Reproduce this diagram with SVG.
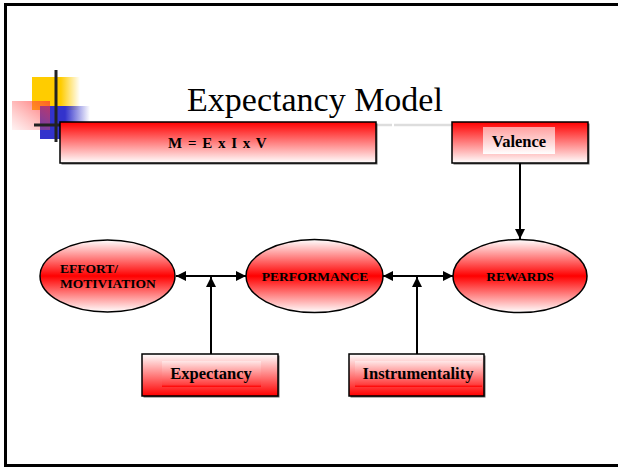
<svg xmlns="http://www.w3.org/2000/svg" width="618" height="467" viewBox="0 0 618 467">
  <defs>
    <linearGradient id="redDown" x1="0" y1="0" x2="0" y2="1">
      <stop offset="0" stop-color="#ff0000"/>
      <stop offset="1" stop-color="#ffffff"/>
    </linearGradient>
    <linearGradient id="redUp" x1="0" y1="0" x2="0" y2="1">
      <stop offset="0" stop-color="#ffffff"/>
      <stop offset="1" stop-color="#ff0000"/>
    </linearGradient>
    <linearGradient id="innerDown" x1="0" y1="0" x2="0" y2="1">
      <stop offset="0" stop-color="#ffa0a0"/>
      <stop offset="1" stop-color="#ffffff"/>
    </linearGradient>
    <linearGradient id="innerUp" x1="0" y1="0" x2="0" y2="1">
      <stop offset="0" stop-color="#ffe8e8"/>
      <stop offset="0.9" stop-color="#ff4040"/>
      <stop offset="1" stop-color="#ff0000"/>
    </linearGradient>
    <linearGradient id="band" x1="0" y1="0" x2="0" y2="1">
      <stop offset="0" stop-color="#ffffff"/>
      <stop offset="0.5" stop-color="#ff0000"/>
      <stop offset="1" stop-color="#ffffff"/>
    </linearGradient>
    <linearGradient id="yellowFade" x1="0" y1="0" x2="1" y2="0">
      <stop offset="0" stop-color="#ffcc00"/>
      <stop offset="0.6" stop-color="#ffcc00"/>
      <stop offset="1" stop-color="#ffcc00" stop-opacity="0"/>
    </linearGradient>
    <linearGradient id="blueFade" x1="0" y1="0" x2="1" y2="0">
      <stop offset="0" stop-color="#3333cc"/>
      <stop offset="0.5" stop-color="#3333cc"/>
      <stop offset="1" stop-color="#3333cc" stop-opacity="0"/>
    </linearGradient>
    <linearGradient id="pinkFade" x1="1" y1="0" x2="0" y2="1">
      <stop offset="0" stop-color="#ff3333" stop-opacity="0.7"/>
      <stop offset="1" stop-color="#ff6666" stop-opacity="0.08"/>
    </linearGradient>
    <marker id="head" viewBox="0 0 10 10" refX="10" refY="5" markerWidth="10" markerHeight="10" markerUnits="userSpaceOnUse" orient="auto-start-reverse">
      <path d="M0,0 L10,5 L0,10 Z" fill="#000"/>
    </marker>
    <style>
      .frame { stroke: #000; stroke-width: 3; fill: none; }
      .box { stroke: #000; stroke-width: 1.5; }
      .shadow { fill: #666; }
      .oval { fill: url(#band); stroke: #000; stroke-width: 1.5; }
      .lbl { font-family: "Liberation Serif", "Times New Roman", serif; font-weight: bold; fill: #000; }
      .boxlbl { font-size: 16.5px; text-anchor: middle; }
      .ovallbl { font-size: 13.5px; }
      .title { font-family: "Liberation Serif", "Times New Roman", serif; font-size: 34px; fill: #000; text-anchor: middle; }
      .conn { stroke: #000; stroke-width: 2; fill: none; }
    </style>
  </defs>

  <!-- slide frame -->
  <g id="frame">
    <line class="frame" x1="4" y1="4.5" x2="618" y2="4.5"/>
    <line class="frame" x1="5.5" y1="3" x2="5.5" y2="467"/>
    <line class="frame" x1="4" y1="465.5" x2="618" y2="465.5"/>
  </g>

  <!-- corner ornament -->
  <g id="ornament">
    <rect x="32" y="77" width="48" height="33" fill="url(#yellowFade)"/>
    <rect x="40" y="106" width="50" height="33" fill="url(#blueFade)"/>
    <rect x="12" y="101" width="38" height="29" fill="url(#pinkFade)"/>
    <line x1="56" y1="70" x2="56" y2="142" stroke="#222" stroke-width="3"/>
    <line x1="34" y1="125" x2="60" y2="125" stroke="#222" stroke-width="3"/>
  </g>

  <!-- title -->
  <g id="title">
    <text class="title" x="315" y="111">Expectancy Model</text>
    <line x1="377" y1="125" x2="392" y2="125" stroke="#dddddd" stroke-width="2.5"/>
    <line x1="394" y1="125" x2="452" y2="125" stroke="#dddddd" stroke-width="2.5"/>
  </g>

  <!-- formula box -->
  <g id="formula">
    <rect class="shadow" x="61.5" y="123.5" width="316" height="41"/>
    <rect class="box" x="60" y="122" width="316" height="41" fill="url(#redDown)"/>
    <text class="lbl" x="168" y="148" font-size="15" word-spacing="2">M = E x I x V</text>
  </g>

  <!-- valence box -->
  <g id="valence">
    <rect class="shadow" x="453.5" y="123.5" width="136" height="41"/>
    <rect class="box" x="452" y="122" width="136" height="41" fill="url(#redDown)"/>
    <rect x="483" y="127" width="72" height="27" fill="url(#innerDown)"/>
    <text class="lbl boxlbl" x="519" y="147">Valence</text>
  </g>

  <!-- outcome ovals -->
  <g id="effort">
    <ellipse class="oval" cx="107.5" cy="276" rx="67.5" ry="36"/>
    <text class="lbl ovallbl" x="60" y="273">EFFORT/</text>
    <text class="lbl ovallbl" x="60" y="288">MOTIVIATION</text>
  </g>
  <g id="performance">
    <ellipse class="oval" cx="314.5" cy="276" rx="68.5" ry="36.5"/>
    <text class="lbl ovallbl" x="315" y="281" text-anchor="middle">PERFORMANCE</text>
  </g>
  <g id="rewards">
    <ellipse class="oval" cx="520" cy="276" rx="67" ry="36.5"/>
    <text class="lbl ovallbl" x="520" y="281" text-anchor="middle">REWARDS</text>
  </g>

  <!-- expectancy box -->
  <g id="expectancy">
    <rect class="shadow" x="143.5" y="355.5" width="136" height="42"/>
    <rect class="box" x="142" y="354" width="136" height="42" fill="url(#redUp)"/>
    <rect x="162" y="361" width="99" height="26" fill="url(#innerUp)"/>
    <text class="lbl boxlbl" x="211" y="379">Expectancy</text>
  </g>

  <!-- instrumentality box -->
  <g id="instrumentality">
    <rect class="shadow" x="350.5" y="355.5" width="135" height="42"/>
    <rect class="box" x="349" y="354" width="135" height="42" fill="url(#redUp)"/>
    <rect x="355" y="361" width="127" height="26" fill="url(#innerUp)"/>
    <text class="lbl boxlbl" x="418" y="379">Instrumentality</text>
  </g>

  <!-- connectors -->
  <g id="connectors">
    <line class="conn" x1="176" y1="276" x2="246" y2="276" marker-start="url(#head)" marker-end="url(#head)"/>
    <line class="conn" x1="211" y1="354" x2="211" y2="277" marker-end="url(#head)"/>
    <line class="conn" x1="383" y1="276" x2="453" y2="276" marker-start="url(#head)" marker-end="url(#head)"/>
    <line class="conn" x1="417" y1="354" x2="417" y2="277" marker-end="url(#head)"/>
    <line class="conn" x1="520" y1="163" x2="520" y2="239" marker-end="url(#head)"/>
  </g>
</svg>
